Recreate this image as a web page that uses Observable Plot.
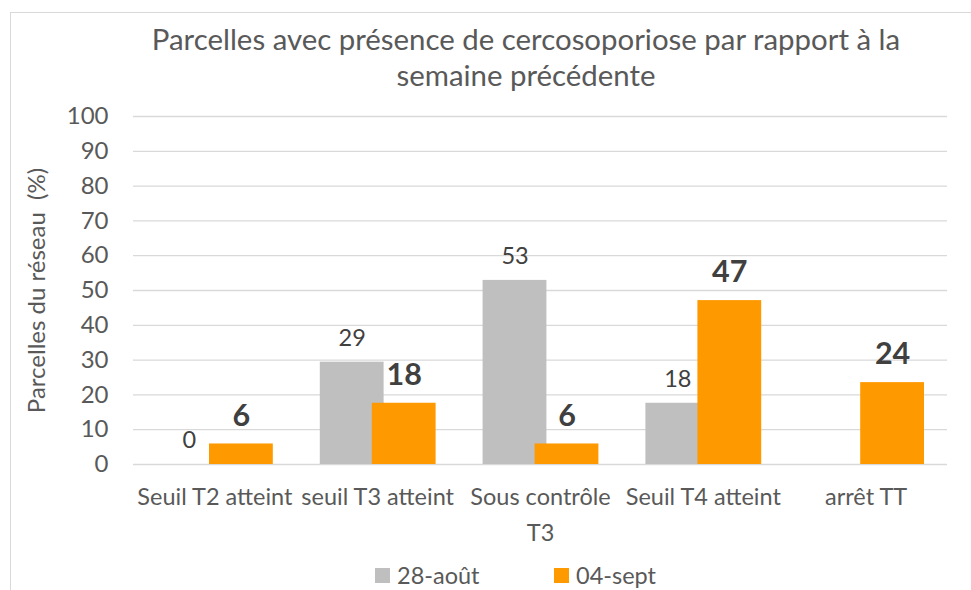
<!DOCTYPE html>
<html>
<head>
<meta charset="utf-8">
<script src="https://cdn.jsdelivr.net/npm/d3@7"></script>
<script src="https://cdn.jsdelivr.net/npm/@observablehq/plot@0.6"></script>
<style>
  html, body { margin: 0; padding: 0; background: #fff; overflow: hidden; width: 971px; height: 590px; }
  body { position: relative; font-family: Lato, "Open Sans", sans-serif; }
  #frame { position: absolute; left: 10px; top: 12px; width: 1000px; height: 640px; border: 1px solid #d9d9d9; box-sizing: border-box; }
  #title { position: absolute; left: 40px; width: 972px; top: 21px; text-align: center; font-size: 29.4px; line-height: 36px; color: #595959; }
  #chart { position: absolute; left: 0; top: 0; }
  #legend { position: absolute; top: 561px; left: 0; width: 971px; font-size: 23.5px; line-height: 28px; color: #595959; }
  .item { position: absolute; display: flex; align-items: center; }
  .sw { width: 15px; height: 15px; margin-right: 7px; display: inline-block; }
</style>
</head>
<body>
<div id="frame"></div>
<div id="chart"></div>
<div id="title">Parcelles avec présence de cercosoporiose par rapport à la<br>semaine précédente</div>
<div id="legend"></div>
<script>
const categories = ["Seuil T2 atteint", "seuil T3 atteint", "Sous contrôle\nT3", "Seuil T4 atteint", "arrêt TT"];
const series = ["28-août", "04-sept"];
const aout = [0, 29.4, 52.9, 17.6, null];
const sept = [5.9, 17.6, 5.9, 47.1, 23.53];
const yTicks = [0, 10, 20, 30, 40, 50, 60, 70, 80, 90, 100];
const colors = ["#bfbfbf", "#ff9900"];

const grayRows = categories.map((c, i) => ({cat: c, series: series[0], value: aout[i]})).filter(d => d.value != null);
const orangeRows = categories.map((c, i) => ({cat: c, series: series[1], value: sept[i]})).filter(d => d.value != null);

const chart = Plot.plot({
  width: 971,
  height: 590,
  marginTop: 116,
  marginBottom: 126,
  marginLeft: 133,
  marginRight: 24,
  style: {fontFamily: "Lato, 'Open Sans', sans-serif", background: "transparent"},
  x: {domain: categories, padding: 0, round: false, label: null},
  y: {domain: [0, 100], label: null},
  color: {domain: series, range: colors},
  marks: [
    Plot.gridY(yTicks, {stroke: "#d9d9d9", strokeOpacity: 1, strokeWidth: 1.3}),
    Plot.axisY(yTicks, {tickSize: 0, tickPadding: 25, fontSize: 24, fill: "#595959",
      label: "Parcelles du réseau  (%)", labelAnchor: "center", labelOffset: 106, labelArrow: "none"}),
    Plot.axisX({tickSize: 0, tickPadding: 15, fontSize: 23.5, lineHeight: 1.53, fill: "#595959", label: null}),
    Plot.barY(grayRows, {x: "cat", y: "value", fill: "series", insetLeft: 24, insetRight: 75}),
    Plot.barY(orangeRows, {x: "cat", y: "value", fill: "series", insetLeft: 76, insetRight: 23}),
    Plot.text(grayRows, {x: "cat", y: "value", text: d => String(Math.round(d.value)), dx: -25.5, dy: -24, fontSize: 23.5, fill: "#404040"}),
    Plot.text(orangeRows, {x: "cat", y: "value", text: d => String(Math.round(d.value)), dx: 26.5, dy: -28, fontSize: 30.5, fontWeight: "bold", fill: "#404040"})
  ]
});
document.getElementById("chart").appendChild(chart);

const legend = document.getElementById("legend");
const legendX = [375, 554];
series.forEach((s, i) => {
  const it = document.createElement("div");
  it.className = "item";
  it.style.left = legendX[i] + "px";
  it.innerHTML = `<span class="sw" style="background:${colors[i]}"></span><span>${s}</span>`;
  legend.appendChild(it);
});
</script>
</body>
</html>
